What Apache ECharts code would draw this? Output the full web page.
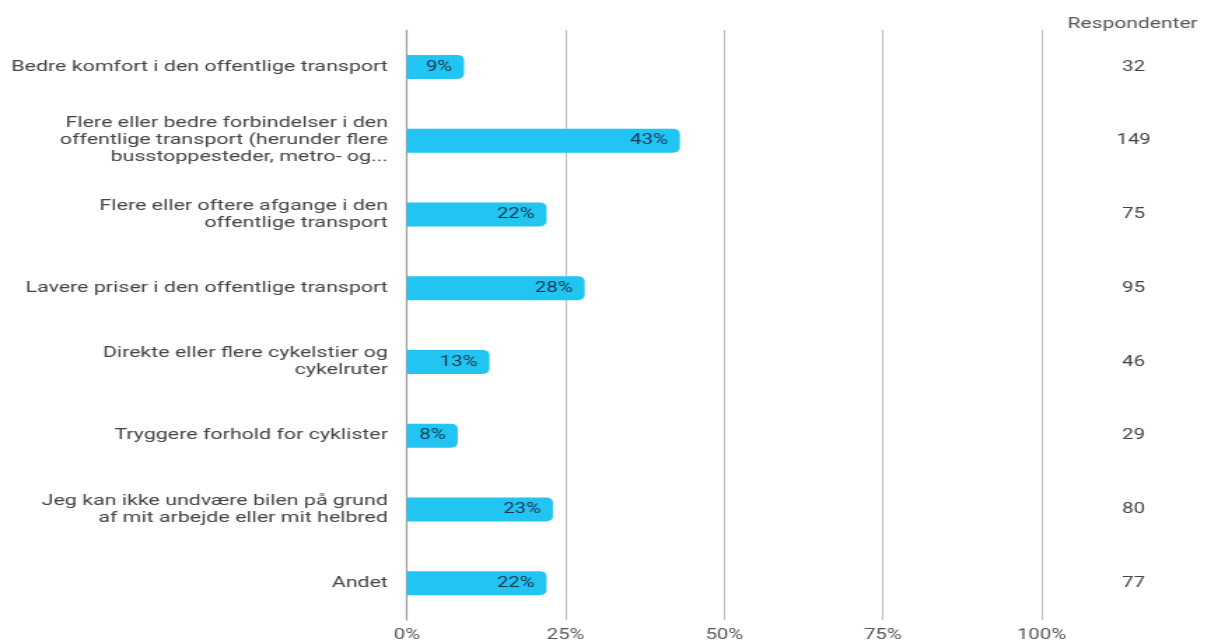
<!DOCTYPE html>
<html><head><meta charset="utf-8">
<script src="https://cdn.jsdelivr.net/npm/echarts@6/dist/echarts.min.js"></script>
<style>
html,body{margin:0;padding:0;background:#fff;overflow:hidden}
#wrap{width:1209px;height:643px;overflow:hidden}
#c{width:863.6px;height:643px;transform:scaleX(1.4);transform-origin:0 0}
</style>
</head><body><div id="wrap"><div id="c"></div></div>
<script>
const categories = [
  'Bedre komfort i den offentlige transport',
  'Flere eller bedre forbindelser i den\noffentlige transport (herunder flere\nbusstoppesteder, metro- og...',
  'Flere eller oftere afgange i den\noffentlige transport',
  'Lavere priser i den offentlige transport',
  'Direkte eller flere cykelstier og\ncykelruter',
  'Tryggere forhold for cyklister',
  'Jeg kan ikke undvære bilen på grund\naf mit arbejde eller mit helbred',
  'Andet'
];
const percentValues = [9, 43, 22, 28, 13, 8, 23, 22];
const respondents = [32, 149, 75, 95, 46, 29, 80, 77];
const xTicks = [0, 25, 50, 75, 100];
const headerText = 'Respondenter';

const F = 'Roboto';
const chart = echarts.init(document.getElementById('c'));
chart.setOption({
  animation: false,
  textStyle: { fontFamily: F },
  title: {
    text: headerText, left: 804, top: 12, textAlign: 'center',
    textStyle: { fontSize: 15, fontWeight: 'normal', color: '#555', fontFamily: F }
  },
  grid: { left: 290.7, right: 120, top: 30, bottom: 22, containLabel: false },
  xAxis: {
    type: 'value', min: xTicks[0], max: xTicks[xTicks.length - 1], interval: 25,
    axisLine: { show: false }, axisTick: { show: false },
    splitLine: { lineStyle: { color: '#bbb', width: 1 } },
    axisLabel: { formatter: '{value}%', fontSize: 14.5, color: '#555', margin: 8 }
  },
  yAxis: [{
    type: 'category', data: categories, inverse: true,
    axisLine: { show: true, lineStyle: { color: '#999', width: 1.2 } },
    axisTick: { show: false },
    axisLabel: { fontSize: 15.3, color: '#444', margin: 13.6, lineHeight: 17, align: 'right', fontFamily: F }
  }, {
    type: 'category', data: respondents, inverse: true, position: 'right',
    axisLine: { show: false }, axisTick: { show: false },
    axisLabel: { fontSize: 14.5, color: '#444', margin: 65.7, align: 'center', fontFamily: F }
  }],
  series: [{
    type: 'bar', data: percentValues, barWidth: 24, yAxisIndex: 0,
    itemStyle: { color: '#22c4f2', borderRadius: [0, 5, 5, 0] },
    label: {
      show: true, position: 'insideRight', formatter: '{c}%', distance: 8.6,
      fontSize: 14.5, color: '#1a3550', fontFamily: F
    }
  }]
});
</script></body></html>
